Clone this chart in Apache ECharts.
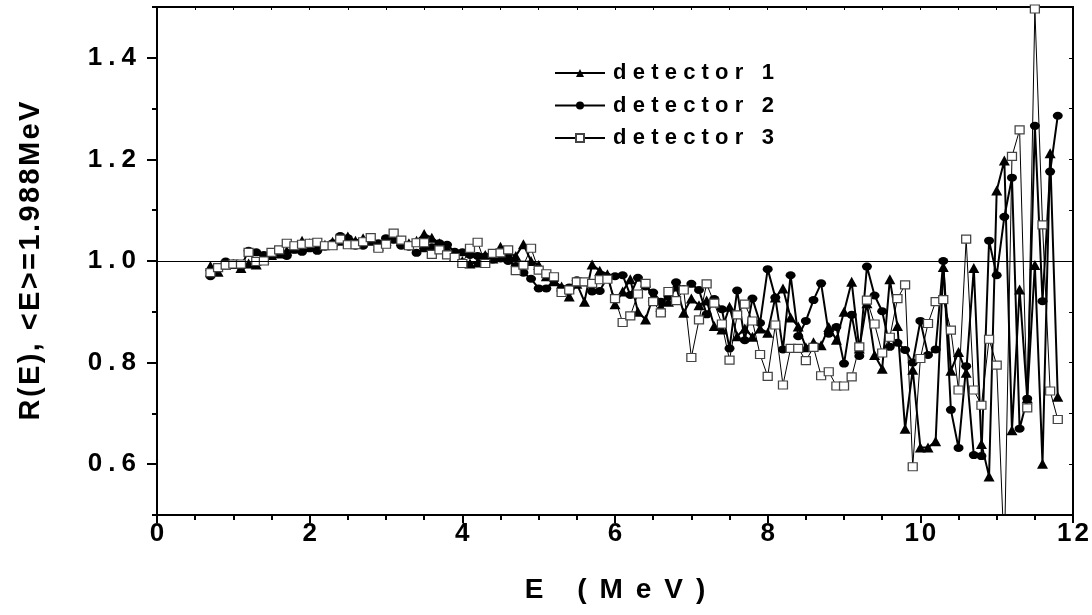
<!DOCTYPE html>
<html><head><meta charset="utf-8">
<script src="https://cdn.jsdelivr.net/npm/echarts@6/dist/echarts.min.js"></script>
<style>html,body{margin:0;padding:0;background:#fff}#c{width:1092px;height:615px}</style>
</head><body><div id="c"></div>
<script>
const energy = [0.7,0.8,0.9,1.0,1.1,1.2,1.3,1.4,1.5,1.6,
1.7,1.8,1.9,2.0,2.1,2.2,2.3,2.4,2.5,2.6,
2.7,2.8,2.9,3.0,3.1,3.2,3.3,3.4,3.5,3.6,
3.7,3.8,3.9,4.0,4.1,4.2,4.3,4.4,4.5,4.6,
4.7,4.8,4.9,5.0,5.1,5.2,5.3,5.4,5.5,5.6,
5.7,5.8,5.9,6.0,6.1,6.2,6.3,6.4,6.5,6.6,
6.7,6.8,6.9,7.0,7.1,7.2,7.3,7.4,7.5,7.6,
7.7,7.8,7.9,8.0,8.1,8.2,8.3,8.4,8.5,8.6,
8.7,8.8,8.9,9.0,9.1,9.2,9.3,9.4,9.5,9.6,
9.7,9.8,9.9,10.0,10.1,10.2,10.3,10.4,10.5,10.6,
10.7,10.8,10.9,11.0,11.1,11.2,11.3,11.4,11.5,11.6,
11.7,11.8];
const det1 = [0.990,0.979,0.993,0.994,0.986,0.995,0.993,1.005,1.012,1.015,
1.020,1.025,1.040,1.035,1.030,1.032,1.038,1.040,1.048,1.040,
1.045,1.040,1.030,1.040,1.045,1.040,1.035,1.040,1.053,1.046,
1.035,1.025,1.010,1.000,0.995,0.997,1.012,1.005,1.028,1.015,
1.010,1.033,1.000,0.992,0.970,0.960,0.950,0.930,0.955,0.920,
0.993,0.981,0.974,0.915,0.940,0.964,0.900,0.885,0.930,0.910,
0.920,0.950,0.898,0.926,0.913,0.922,0.872,0.865,0.910,0.852,
0.867,0.851,0.867,0.859,0.928,0.946,0.889,0.871,0.830,0.840,
0.834,0.870,0.845,0.900,0.959,0.828,0.917,0.815,0.788,0.964,
0.872,0.670,0.786,0.633,0.633,0.645,0.988,0.784,0.821,0.780,
0.986,0.640,0.576,1.139,1.198,0.667,0.944,0.730,0.992,0.601,
1.212,0.733];
const det2 = [0.970,0.985,0.999,0.995,0.989,1.020,1.017,1.012,1.015,1.020,
1.010,1.022,1.018,1.025,1.020,1.028,1.035,1.049,1.045,1.030,
1.030,1.040,1.035,1.045,1.042,1.030,1.028,1.016,1.025,1.027,
1.035,1.032,1.018,1.017,1.012,1.010,1.009,1.003,1.005,1.000,
0.990,0.977,0.965,0.946,0.946,0.962,0.946,0.948,0.962,0.958,
0.940,0.941,0.969,0.970,0.972,0.933,0.967,0.950,0.938,0.920,
0.930,0.958,0.945,0.955,0.943,0.895,0.925,0.905,0.828,0.942,
0.844,0.926,0.878,0.984,0.928,0.826,0.972,0.852,0.882,0.923,
0.956,0.857,0.870,0.798,0.894,0.813,0.989,0.932,0.901,0.831,
0.839,0.825,0.800,0.882,0.815,0.826,1.000,0.707,0.632,0.793,
0.618,0.616,1.040,0.972,1.087,1.164,0.670,0.729,1.266,0.921,
1.176,1.286];
const det3 = [0.977,0.987,0.992,0.994,0.994,1.017,0.999,1.000,1.017,1.022,
1.035,1.030,1.033,1.035,1.037,1.030,1.030,1.043,1.032,1.032,
1.038,1.046,1.025,1.033,1.055,1.041,1.030,1.036,1.036,1.013,
1.022,1.012,1.007,0.995,1.025,1.037,0.995,1.015,1.016,1.022,
0.981,0.992,1.025,0.982,0.975,0.969,0.938,0.943,0.959,0.959,
0.956,0.963,0.964,0.926,0.879,0.892,0.935,0.956,0.920,0.898,
0.940,0.922,0.943,0.810,0.884,0.955,0.917,0.876,0.805,0.894,
0.915,0.882,0.816,0.773,0.874,0.756,0.828,0.828,0.804,0.830,
0.774,0.782,0.754,0.754,0.772,0.831,0.923,0.876,0.819,0.850,
0.926,0.953,0.595,0.808,0.877,0.920,0.924,0.864,0.746,1.043,
0.746,0.716,0.846,0.795,0.420,1.206,1.258,0.711,1.496,1.071,
0.744,0.688];
const seriesNames = ['detector 1','detector 2','detector 3'];
const xTitle = 'E (MeV)';
const yTitle = 'R(E), <E>=1.988MeV';
const yLabelValues = [0.6,0.8,1.0,1.2,1.4];
const yMinorValues = [0.5,0.7,0.9,1.1,1.3,1.5];
const refLevel = 1.0;

const FONT = '"Liberation Sans", Arial, Helvetica, sans-serif';
function spaced(s, key){ return s.split('').map(c => '{' + key + '|' + c + '}').join(''); }
function pairs(vals){ return energy.map((e,i)=>[e, vals[i]]); }
function rs(size, pad){ return {fontFamily: FONT, fontWeight:'bold', fontSize:size, color:'#000', padding:[0,pad,0,pad]}; }

const chart = echarts.init(document.getElementById('c'), null, {renderer:'canvas'});
const axisLine = {show:true, lineStyle:{color:'#000', width:2}};
chart.setOption({
  animation:false,
  backgroundColor:'#fff',
  grid:{left:157, right:16, top:7, bottom:100, containLabel:false},
  legend:{
    orient:'vertical', left:549, top:57, itemWidth:50, itemHeight:10, itemGap:10.5,
    data: seriesNames,
    formatter: n => spaced(n,'lg'),
    textStyle:{rich:{lg: Object.assign(rs(22,3.1), {lineHeight:22})}}
  },
  xAxis:[{
    type:'value', min:0, max:12, interval:2, position:'bottom',
    axisLine: axisLine,
    axisTick:{show:true, length:8, lineStyle:{color:'#000', width:2}},
    minorTick:{show:true, splitNumber:4, length:5, lineStyle:{color:'#000', width:2}},
    splitLine:{show:false}, minorSplitLine:{show:false},
    axisLabel:{margin:6, formatter: v => spaced(String(v),'xl'), rich:{xl: rs(26,1.5)}},
    name: spaced(xTitle,'xt'), nameLocation:'middle', nameGap:61,
    nameTextStyle:{rich:{xt: rs(28,6.5)}}
  },{
    type:'value', min:0, max:12, interval:2, position:'top',
    axisLine: axisLine,
    axisTick:{show:true, inside:true, length:3, lineStyle:{color:'#000', width:1}},
    minorTick:{show:true, splitNumber:4, length:3, lineStyle:{color:'#000', width:1}},
    splitLine:{show:false}, axisLabel:{show:false}
  }],
  yAxis:[{
    type:'value', min:0.5, max:1.5, interval:0.1, position:'left',
    axisLine: axisLine,
    axisTick:{show:true, length:10, customValues: yLabelValues, lineStyle:{color:'#000', width:2}},
    splitLine:{show:false},
    axisLabel:{margin:18, customValues: yLabelValues, formatter: v => spaced(v.toFixed(1),'yl'), rich:{yl: rs(26,3)}},
    name: spaced(yTitle,'yt'), nameLocation:'middle', nameGap:112, nameRotate:90,
    nameTextStyle:{rich:{yt: rs(29,1.2)}}
  },{
    type:'value', min:0.5, max:1.5, interval:0.1, position:'left',
    axisLine:{show:false},
    axisTick:{show:true, length:5, customValues: yMinorValues, lineStyle:{color:'#000', width:2}},
    splitLine:{show:false}, axisLabel:{show:false}
  },{
    type:'value', min:0.5, max:1.5, interval:0.1, position:'right',
    axisLine: axisLine,
    axisTick:{show:true, inside:true, length:4, lineStyle:{color:'#000', width:1}},
    splitLine:{show:false}, axisLabel:{show:false}
  }],
  series:[{
    name: seriesNames[0], type:'line', xAxisIndex:0, yAxisIndex:0,
    data: pairs(det1), symbol:'triangle', symbolSize:[11,10], showAllSymbol:true,
    itemStyle:{color:'#000'}, lineStyle:{color:'#000', width:2},
    markLine:{silent:true, symbol:'none', label:{show:false},
      lineStyle:{color:'#000', width:1, type:'solid'}, data:[{yAxis: refLevel}]}
  },{
    name: seriesNames[1], type:'line', xAxisIndex:0, yAxisIndex:0,
    data: pairs(det2), symbol:'circle', symbolSize:[10,8], showAllSymbol:true,
    itemStyle:{color:'#000'}, lineStyle:{color:'#000', width:2}
  },{
    name: seriesNames[2], type:'line', xAxisIndex:0, yAxisIndex:0,
    data: pairs(det3), symbol:'rect', symbolSize:[9,8], showAllSymbol:true,
    itemStyle:{color:'#fff', borderColor:'#444', borderWidth:1.2}, lineStyle:{color:'#000', width:1}
  }]
});
</script></body></html>
